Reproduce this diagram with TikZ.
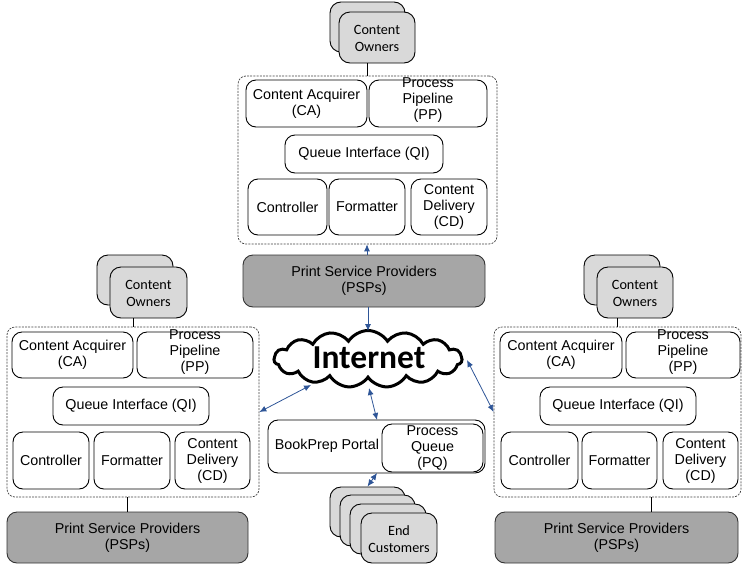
\documentclass[tikz,border=0pt]{standalone}
\usepackage{fontspec}
\setmainfont{Liberation Sans}
\newfontfamily\calfont{Carlito}
\usetikzlibrary{shapes.symbols,arrows.meta,calc}
\definecolor{arrowblue}{HTML}{2E5597}
\definecolor{pspgray}{HTML}{A6A6A6}
\definecolor{ownergray}{HTML}{D9D9D9}
\tikzset{
  boxbase/.style={draw=black, line width=0.9pt, rounded corners=10pt, inner sep=0pt, fill=white},
  wbox/.style={boxbase},
  pspbox/.style={boxbase, fill=pspgray, draw=black!80},
  ownbox/.style={boxbase, fill=ownergray, rounded corners=11pt},
  container/.style={draw=black!75, line width=0.7pt, dash pattern=on 2pt off 1.2pt, rounded corners=8pt, inner sep=0pt},
  lbl/.style={align=center, inner sep=0pt, font=\fontsize{14.3}{16}\selectfont},
  clbl/.style={align=center, inner sep=0pt, font=\calfont\fontsize{14.2}{17}\selectfont},
  plain/.style={draw=black, line width=0.8pt},
  blue/.style={draw=arrowblue, line width=0.8pt},
  tipb/.style={-{Latex[length=7pt,width=6pt]}},
  tipbb/.style={{Latex[length=7pt,width=6pt]}-{Latex[length=7pt,width=6pt]}},
}
% \bx[style]{name}{x1}{y1}{x2}{y2}
\newcommand\bx[6][wbox]{%
  \node[#1, minimum width={#5-#3}, minimum height={#6-#4}] (#2) at ({(#3+#5)/2},{(#4+#6)/2}) {};}
\begin{document}
\begin{tikzpicture}[x=1pt,y=-1pt]
\useasboundingbox (0,0) rectangle (743,565);

% ---------------- top cluster ----------------
\bx[ownbox]{coTb}{330}{2}{405}{52}
\bx[ownbox]{coT}{339}{12}{415}{63}
\node[clbl] (coTt) at ($(coT)+(0,1)$) {Content\\Owners};
\node[container, minimum width=259pt, minimum height=168pt] (contT) at (367.5,160) {};
\bx{caT}{246}{80}{367}{127}
\node[lbl] (caTt) at (caT) {Content Acquirer\\(CA)};
\bx{ppT}{369}{80}{487}{127}
\node[lbl] (ppTt) at ($(ppT)+(0,-3)$) {Process\\Pipeline\\(PP)};
\bx{qiT}{285}{135}{443}{173}
\node[lbl] (qiTt) at (qiT) {Queue Interface (QI)};
\bx{ctT}{248}{179}{327}{235}
\node[lbl] (ctTt) at (ctT) {Controller};
\bx{fmT}{329}{179}{405}{235}
\node[lbl] (fmTt) at (fmT) {Formatter};
\bx{cdT}{411}{179}{487}{235}
\node[lbl] (cdTt) at (cdT) {Content\\Delivery\\(CD)};
\bx[pspbox]{pspT}{243}{255}{485}{307}
\node[lbl] (pspTt) at (pspT) {Print Service Providers\\(PSPs)};

% ---------------- left cluster ----------------
\bx[ownbox]{coLb}{97}{255}{173}{305}
\bx[ownbox]{coL}{110}{267}{187}{318}
\node[clbl] (coLt) at ($(coL)+(0,1)$) {Content\\Owners};
\bx[container]{contL}{7}{327}{259}{497}
\bx{caL}{12}{332}{133}{378}
\node[lbl] (caLt) at (caL) {Content Acquirer\\(CA)};
\bx{ppL}{137}{332}{253}{378}
\node[lbl] (ppLt) at ($(ppL)+(0,-3)$) {Process\\Pipeline\\(PP)};
\bx{qiL}{53}{387}{209}{425}
\node[lbl] (qiLt) at (qiL) {Queue Interface (QI)};
\bx{ctL}{13}{432}{89}{489}
\node[lbl] (ctLt) at (ctL) {Controller};
\bx{fmL}{94}{432}{170}{489}
\node[lbl] (fmLt) at (fmL) {Formatter};
\bx{cdL}{175}{432}{250}{489}
\node[lbl] (cdLt) at (cdL) {Content\\Delivery\\(CD)};
\bx[pspbox]{pspL}{7}{512}{248}{563}
\node[lbl] (pspLt) at (pspL) {Print Service Providers\\(PSPs)};

% ---------------- right cluster ----------------
\bx[ownbox]{coRb}{584}{255}{660}{305}
\bx[ownbox]{coR}{597}{267}{673}{318}
\node[clbl] (coRt) at ($(coR)+(0,1)$) {Content\\Owners};
\bx[container]{contR}{494}{327}{741}{497}
\bx{caR}{500}{332}{622}{378}
\node[lbl] (caRt) at (caR) {Content Acquirer\\(CA)};
\bx{ppR}{626}{332}{740}{378}
\node[lbl] (ppRt) at ($(ppR)+(0,-3)$) {Process\\Pipeline\\(PP)};
\bx{qiR}{540}{387}{696}{425}
\node[lbl] (qiRt) at (qiR) {Queue Interface (QI)};
\bx{ctR}{501}{432}{578}{489}
\node[lbl] (ctRt) at (ctR) {Controller};
\bx{fmR}{582}{432}{657}{489}
\node[lbl] (fmRt) at (fmR) {Formatter};
\bx{cdR}{663}{432}{738}{489}
\node[lbl] (cdRt) at (cdR) {Content\\Delivery\\(CD)};
\bx[pspbox]{pspR}{495}{512}{738}{563}
\node[lbl] (pspRt) at (pspR) {Print Service Providers\\(PSPs)};

% ---------------- centre ----------------
\node[cloud, cloud puffs=15, cloud puff arc=115, aspect=3.3, draw=black, line width=3pt,
      fill=white, minimum width=188pt, minimum height=57pt, inner sep=0pt] (inet) at (368,359) {};
\node[inner sep=0pt, font=\calfont\bfseries\fontsize{33.5}{36}\selectfont] (inett) at (369,358) {Internet};

\bx{bp}{268}{420}{485}{473}
\node[lbl] (bpt) at (327,446) {BookPrep Portal};
\bx{pq}{382}{424}{483}{472}
\node[lbl] (pqt) at (pq) {Process\\Queue\\(PQ)};

\bx[ownbox]{ec1}{330}{487}{405}{537}
\bx[ownbox]{ec2}{340}{495}{415}{546}
\bx[ownbox]{ec3}{350}{504}{426}{554}
\bx[ownbox]{ec4}{361}{513}{437}{563}
\node[clbl] (ec4t) at ($(ec4)+(0,1)$) {End\\Customers};

% ---------------- connectors ----------------
\draw[plain] (contT.north) -- (contT.north |- coT.south);
\draw[plain] (contL.north) -- (contL.north |- coL.south);
\draw[plain] (contR.north) -- (contR.north |- coR.south);
\draw[plain] (pspL.north) -- (pspL.north |- contL.south);
\coordinate (rdrop) at (651,497);
\draw[plain] (rdrop) -- (rdrop |- pspR.north);

\coordinate (tUp) at (367,255);
\draw[blue, tipb] (tUp) -- (tUp |- contT.south);
\coordinate (tDn) at (368,307);
\coordinate (inTop) at (368,331);
\draw[blue, tipb] (tDn) -- (inTop);

\coordinate (inL) at (311,385);
\draw[blue, tipbb] (inL) -- (contL.east);
\coordinate (inR) at (467,360);
\draw[blue, tipbb] (inR) -- (contR.west);
\coordinate (inB) at (369,388);
\coordinate (bpTop) at (377,420);
\draw[blue, tipbb] (inB) -- (bpTop);
\coordinate (bpBot) at (377,473);
\draw[blue, tipbb] (bpBot) -- (ec1.north);
\end{tikzpicture}
\end{document}
